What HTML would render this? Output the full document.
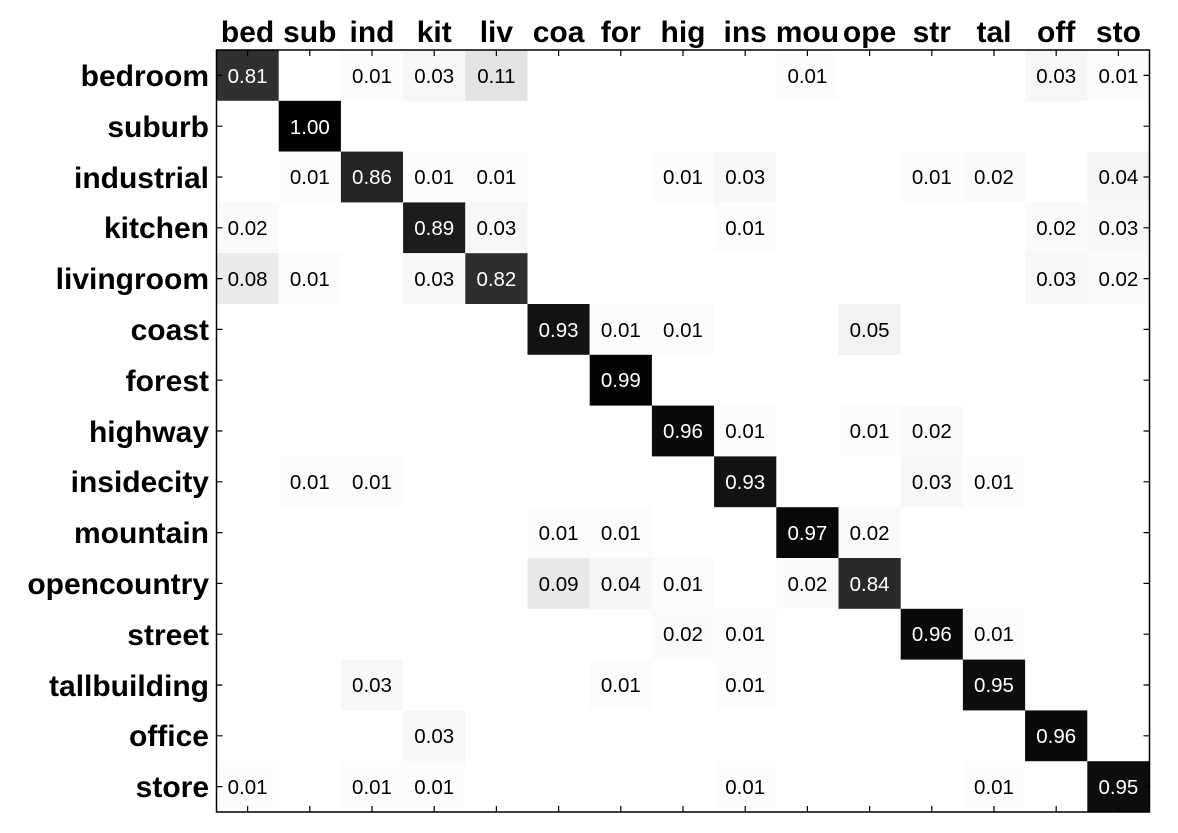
<!DOCTYPE html>
<html><head><meta charset="utf-8"><style>body{margin:0;background:#fff}svg{display:block}</style></head><body>
<svg width="1178" height="833" xmlns="http://www.w3.org/2000/svg" font-family="Liberation Sans, sans-serif">
<rect width="1178" height="833" fill="#fff"/>
<g>
<rect x="216.5" y="50" width="62.2" height="50.8" fill="rgb(48,48,48)"/>
<rect x="340.9" y="50" width="62.2" height="50.8" fill="rgb(252,252,252)"/>
<rect x="403.1" y="50" width="62.2" height="50.8" fill="rgb(247,247,247)"/>
<rect x="465.3" y="50" width="62.2" height="50.8" fill="rgb(227,227,227)"/>
<rect x="776.3" y="50" width="62.2" height="50.8" fill="rgb(252,252,252)"/>
<rect x="1025.1" y="50" width="62.2" height="50.8" fill="rgb(247,247,247)"/>
<rect x="1087.3" y="50" width="62.2" height="50.8" fill="rgb(252,252,252)"/>
<rect x="278.7" y="100.8" width="62.2" height="50.8" fill="rgb(0,0,0)"/>
<rect x="278.7" y="151.6" width="62.2" height="50.8" fill="rgb(252,252,252)"/>
<rect x="340.9" y="151.6" width="62.2" height="50.8" fill="rgb(36,36,36)"/>
<rect x="403.1" y="151.6" width="62.2" height="50.8" fill="rgb(252,252,252)"/>
<rect x="465.3" y="151.6" width="62.2" height="50.8" fill="rgb(252,252,252)"/>
<rect x="651.9" y="151.6" width="62.2" height="50.8" fill="rgb(252,252,252)"/>
<rect x="714.1" y="151.6" width="62.2" height="50.8" fill="rgb(247,247,247)"/>
<rect x="900.7" y="151.6" width="62.2" height="50.8" fill="rgb(252,252,252)"/>
<rect x="962.9" y="151.6" width="62.2" height="50.8" fill="rgb(250,250,250)"/>
<rect x="1087.3" y="151.6" width="62.2" height="50.8" fill="rgb(245,245,245)"/>
<rect x="216.5" y="202.4" width="62.2" height="50.8" fill="rgb(250,250,250)"/>
<rect x="403.1" y="202.4" width="62.2" height="50.8" fill="rgb(28,28,28)"/>
<rect x="465.3" y="202.4" width="62.2" height="50.8" fill="rgb(247,247,247)"/>
<rect x="714.1" y="202.4" width="62.2" height="50.8" fill="rgb(252,252,252)"/>
<rect x="1025.1" y="202.4" width="62.2" height="50.8" fill="rgb(250,250,250)"/>
<rect x="1087.3" y="202.4" width="62.2" height="50.8" fill="rgb(247,247,247)"/>
<rect x="216.5" y="253.2" width="62.2" height="50.8" fill="rgb(235,235,235)"/>
<rect x="278.7" y="253.2" width="62.2" height="50.8" fill="rgb(252,252,252)"/>
<rect x="403.1" y="253.2" width="62.2" height="50.8" fill="rgb(247,247,247)"/>
<rect x="465.3" y="253.2" width="62.2" height="50.8" fill="rgb(46,46,46)"/>
<rect x="1025.1" y="253.2" width="62.2" height="50.8" fill="rgb(247,247,247)"/>
<rect x="1087.3" y="253.2" width="62.2" height="50.8" fill="rgb(250,250,250)"/>
<rect x="527.5" y="304" width="62.2" height="50.8" fill="rgb(18,18,18)"/>
<rect x="589.7" y="304" width="62.2" height="50.8" fill="rgb(252,252,252)"/>
<rect x="651.9" y="304" width="62.2" height="50.8" fill="rgb(252,252,252)"/>
<rect x="838.5" y="304" width="62.2" height="50.8" fill="rgb(242,242,242)"/>
<rect x="589.7" y="354.8" width="62.2" height="50.8" fill="rgb(3,3,3)"/>
<rect x="651.9" y="405.6" width="62.2" height="50.8" fill="rgb(10,10,10)"/>
<rect x="714.1" y="405.6" width="62.2" height="50.8" fill="rgb(252,252,252)"/>
<rect x="838.5" y="405.6" width="62.2" height="50.8" fill="rgb(252,252,252)"/>
<rect x="900.7" y="405.6" width="62.2" height="50.8" fill="rgb(250,250,250)"/>
<rect x="278.7" y="456.4" width="62.2" height="50.8" fill="rgb(252,252,252)"/>
<rect x="340.9" y="456.4" width="62.2" height="50.8" fill="rgb(252,252,252)"/>
<rect x="714.1" y="456.4" width="62.2" height="50.8" fill="rgb(18,18,18)"/>
<rect x="900.7" y="456.4" width="62.2" height="50.8" fill="rgb(247,247,247)"/>
<rect x="962.9" y="456.4" width="62.2" height="50.8" fill="rgb(252,252,252)"/>
<rect x="527.5" y="507.2" width="62.2" height="50.8" fill="rgb(252,252,252)"/>
<rect x="589.7" y="507.2" width="62.2" height="50.8" fill="rgb(252,252,252)"/>
<rect x="776.3" y="507.2" width="62.2" height="50.8" fill="rgb(8,8,8)"/>
<rect x="838.5" y="507.2" width="62.2" height="50.8" fill="rgb(250,250,250)"/>
<rect x="527.5" y="558" width="62.2" height="50.8" fill="rgb(232,232,232)"/>
<rect x="589.7" y="558" width="62.2" height="50.8" fill="rgb(245,245,245)"/>
<rect x="651.9" y="558" width="62.2" height="50.8" fill="rgb(252,252,252)"/>
<rect x="776.3" y="558" width="62.2" height="50.8" fill="rgb(250,250,250)"/>
<rect x="838.5" y="558" width="62.2" height="50.8" fill="rgb(41,41,41)"/>
<rect x="651.9" y="608.8" width="62.2" height="50.8" fill="rgb(250,250,250)"/>
<rect x="714.1" y="608.8" width="62.2" height="50.8" fill="rgb(252,252,252)"/>
<rect x="900.7" y="608.8" width="62.2" height="50.8" fill="rgb(10,10,10)"/>
<rect x="962.9" y="608.8" width="62.2" height="50.8" fill="rgb(252,252,252)"/>
<rect x="340.9" y="659.6" width="62.2" height="50.8" fill="rgb(247,247,247)"/>
<rect x="589.7" y="659.6" width="62.2" height="50.8" fill="rgb(252,252,252)"/>
<rect x="714.1" y="659.6" width="62.2" height="50.8" fill="rgb(252,252,252)"/>
<rect x="962.9" y="659.6" width="62.2" height="50.8" fill="rgb(13,13,13)"/>
<rect x="403.1" y="710.4" width="62.2" height="50.8" fill="rgb(247,247,247)"/>
<rect x="1025.1" y="710.4" width="62.2" height="50.8" fill="rgb(10,10,10)"/>
<rect x="216.5" y="761.2" width="62.2" height="50.8" fill="rgb(252,252,252)"/>
<rect x="340.9" y="761.2" width="62.2" height="50.8" fill="rgb(252,252,252)"/>
<rect x="403.1" y="761.2" width="62.2" height="50.8" fill="rgb(252,252,252)"/>
<rect x="714.1" y="761.2" width="62.2" height="50.8" fill="rgb(252,252,252)"/>
<rect x="962.9" y="761.2" width="62.2" height="50.8" fill="rgb(252,252,252)"/>
<rect x="1087.3" y="761.2" width="62.2" height="50.8" fill="rgb(13,13,13)"/>
</g>
<rect x="216.5" y="50" width="933" height="762" fill="none" stroke="#000" stroke-width="1.5"/>
<g stroke="#000" stroke-width="1.2">
<path d="M247.6 50v6M309.8 50v6M372 50v6M434.2 50v6M496.4 50v6M558.6 50v6M620.8 50v6M683 50v6M745.2 50v6M807.4 50v6M869.6 50v6M931.8 50v6M994 50v6M1056.2 50v6M1118.4 50v6"/>
<path d="M247.6 812v-6M309.8 812v-6M372 812v-6M434.2 812v-6M496.4 812v-6M558.6 812v-6M620.8 812v-6M683 812v-6M745.2 812v-6M807.4 812v-6M869.6 812v-6M931.8 812v-6M994 812v-6M1056.2 812v-6M1118.4 812v-6"/>
<path d="M216.5 75.4h6M216.5 126.2h6M216.5 177h6M216.5 227.8h6M216.5 278.6h6M216.5 329.4h6M216.5 380.2h6M216.5 431h6M216.5 481.8h6M216.5 532.6h6M216.5 583.4h6M216.5 634.2h6M216.5 685h6M216.5 735.8h6M216.5 786.6h6"/>
<path d="M1149.5 75.4h-6M1149.5 126.2h-6M1149.5 177h-6M1149.5 227.8h-6M1149.5 278.6h-6M1149.5 329.4h-6M1149.5 380.2h-6M1149.5 431h-6M1149.5 481.8h-6M1149.5 532.6h-6M1149.5 583.4h-6M1149.5 634.2h-6M1149.5 685h-6M1149.5 735.8h-6M1149.5 786.6h-6"/>
</g>
<g font-size="30" font-weight="bold" text-anchor="middle">
<text x="247.6" y="42">bed</text><text x="309.8" y="42">sub</text><text x="372" y="42">ind</text><text x="434.2" y="42">kit</text><text x="496.4" y="42">liv</text><text x="558.6" y="42">coa</text><text x="620.8" y="42">for</text><text x="683" y="42">hig</text><text x="745.2" y="42">ins</text><text x="807.4" y="42">mou</text><text x="869.6" y="42">ope</text><text x="931.8" y="42">str</text><text x="994" y="42">tal</text><text x="1056.2" y="42">off</text><text x="1118.4" y="42">sto</text>
</g>
<g font-size="30" font-weight="bold" text-anchor="end">
<text x="209" y="86">bedroom</text><text x="209" y="137">suburb</text><text x="209" y="188">industrial</text><text x="209" y="238">kitchen</text><text x="209" y="289">livingroom</text><text x="209" y="340">coast</text><text x="209" y="391">forest</text><text x="209" y="442">highway</text><text x="209" y="492">insidecity</text><text x="209" y="543">mountain</text><text x="209" y="594">opencountry</text><text x="209" y="645">street</text><text x="209" y="696">tallbuilding</text><text x="209" y="746">office</text><text x="209" y="797">store</text>
</g>
<g font-size="20.5" text-anchor="middle" fill="#000">
<text x="372" y="83">0.01</text><text x="434.2" y="83">0.03</text><text x="496.4" y="83">0.11</text><text x="807.4" y="83">0.01</text><text x="1056.2" y="83">0.03</text><text x="1118.4" y="83">0.01</text>
<text x="309.8" y="184">0.01</text><text x="434.2" y="184">0.01</text><text x="496.4" y="184">0.01</text><text x="683" y="184">0.01</text><text x="745.2" y="184">0.03</text><text x="931.8" y="184">0.01</text><text x="994" y="184">0.02</text><text x="1118.4" y="184">0.04</text>
<text x="247.6" y="235">0.02</text><text x="496.4" y="235">0.03</text><text x="745.2" y="235">0.01</text><text x="1056.2" y="235">0.02</text><text x="1118.4" y="235">0.03</text>
<text x="247.6" y="286">0.08</text><text x="309.8" y="286">0.01</text><text x="434.2" y="286">0.03</text><text x="1056.2" y="286">0.03</text><text x="1118.4" y="286">0.02</text>
<text x="620.8" y="337">0.01</text><text x="683" y="337">0.01</text><text x="869.6" y="337">0.05</text>
<text x="745.2" y="438">0.01</text><text x="869.6" y="438">0.01</text><text x="931.8" y="438">0.02</text>
<text x="309.8" y="489">0.01</text><text x="372" y="489">0.01</text><text x="931.8" y="489">0.03</text><text x="994" y="489">0.01</text>
<text x="558.6" y="540">0.01</text><text x="620.8" y="540">0.01</text><text x="869.6" y="540">0.02</text>
<text x="558.6" y="591">0.09</text><text x="620.8" y="591">0.04</text><text x="683" y="591">0.01</text><text x="807.4" y="591">0.02</text>
<text x="683" y="641">0.02</text><text x="745.2" y="641">0.01</text><text x="994" y="641">0.01</text>
<text x="372" y="692">0.03</text><text x="620.8" y="692">0.01</text><text x="745.2" y="692">0.01</text>
<text x="434.2" y="743">0.03</text>
<text x="247.6" y="794">0.01</text><text x="372" y="794">0.01</text><text x="434.2" y="794">0.01</text><text x="745.2" y="794">0.01</text><text x="994" y="794">0.01</text>
</g>
<g font-size="20.5" text-anchor="middle" fill="#fff">
<text x="247.6" y="83">0.81</text><text x="309.8" y="134">1.00</text><text x="372" y="184">0.86</text><text x="434.2" y="235">0.89</text><text x="496.4" y="286">0.82</text><text x="558.6" y="337">0.93</text><text x="620.8" y="387">0.99</text><text x="683" y="438">0.96</text><text x="745.2" y="489">0.93</text><text x="807.4" y="540">0.97</text><text x="869.6" y="591">0.84</text><text x="931.8" y="641">0.96</text><text x="994" y="692">0.95</text><text x="1056.2" y="743">0.96</text><text x="1118.4" y="794">0.95</text>
</g>
</svg>
</body></html>
